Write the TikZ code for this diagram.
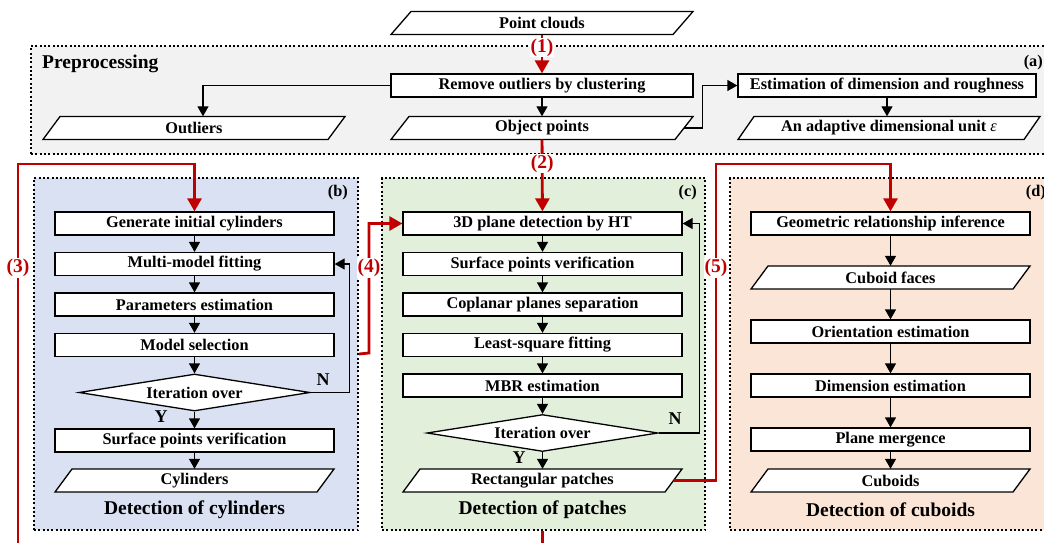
\documentclass[tikz,border=0pt]{standalone}
\usepackage{fontspec}
\setmainfont{Liberation Serif}
\usetikzlibrary{arrows.meta,shapes.geometric,calc}
\definecolor{myred}{RGB}{192,0,0}
\definecolor{graybg}{RGB}{242,242,242}
\definecolor{bluebg}{RGB}{218,225,242}
\definecolor{greenbg}{RGB}{226,239,218}
\definecolor{orangebg}{RGB}{251,229,214}
\newcommand{\paranode}[6]{%
  \draw[boxline] (#2-#4/2+#5,#3-11.5) -- (#2+#4/2,#3-11.5) -- (#2+#4/2-#5,#3+11.5) -- (#2-#4/2,#3+11.5) -- cycle;
  \node[ptxt, minimum width=#4-#5] (#1) at (#2,#3) {#6};}
\begin{document}
\begin{tikzpicture}[x=1pt,y=-1pt,
  boxline/.style={draw=black, line width=1.3pt, fill=white},
  box/.style={boxline, minimum height=23pt, minimum width=279pt, inner sep=0pt, font=\bfseries\fontsize{16.3}{18}\selectfont},
  ptxt/.style={minimum height=23pt, inner sep=0pt, font=\bfseries\fontsize{16.3}{18}\selectfont},
  dec/.style={diamond, boxline, minimum width=231pt, minimum height=37pt, inner sep=0pt, aspect=6.2, font=\bfseries\fontsize{16.3}{18}\selectfont},
  region/.style={draw=black, line width=2pt, dash pattern=on 2pt off 2.3pt, inner sep=0pt, anchor=north west},
  arr/.style={-{Triangle[length=10pt,width=11pt]}, line width=1.3pt},
  redarr/.style={-{Triangle[length=13pt,width=14pt]}, line width=2.8pt, draw=myred},
  redlbl/.style={text=myred, fill=white, inner sep=1pt, font=\bfseries\fontsize{19.5}{21}\selectfont},
  title/.style={font=\bfseries\fontsize{19.5}{22}\selectfont, inner sep=0pt},
  tag/.style={font=\bfseries\fontsize{16.3}{18}\selectfont, inner sep=0pt},
  yn/.style={font=\bfseries\fontsize{18}{20}\selectfont, inner sep=0pt}]
\useasboundingbox (0,0) rectangle (1044,542);
% regions
\node[region, fill=graybg, minimum width=1022pt, minimum height=108pt] (boxa) at (30,45) {};
\node[region, fill=bluebg, minimum width=324pt, minimum height=352pt] (boxb) at (33,177) {};
\node[region, fill=greenbg, minimum width=323pt, minimum height=352pt] (boxc) at (381,177) {};
\node[region, fill=orangebg, minimum width=323pt, minimum height=352pt] (boxd) at (729,177) {};
\node[title, anchor=west] (prep) at (42,64) {Preprocessing};
\node[tag, anchor=east] (ta) at (1043,63) {(a)};
\node[tag, anchor=east] (tb) at (348,193) {(b)};
\node[tag, anchor=east] (tc) at (697,193) {(c)};
\node[tag, anchor=east] (td) at (1046,193) {(d)};
% preprocessing
\paranode{pc}{542}{23}{302}{20}{Point clouds}
\node[box, minimum width=302pt] (rm) at (542,85.5) {Remove outliers by clustering};
\paranode{out}{194}{128}{302}{17}{Outliers}
\paranode{op}{542}{128}{302}{18}{Object points}
\node[box, minimum width=298pt] (est) at (887,85.5) {Estimation of dimension and roughness};
\paranode{eps}{889}{128}{302}{16}{An adaptive dimensional unit {\mdseries\itshape ε}}
% column b
\node[box] (b1) at (194.5,223.5) {Generate initial cylinders};
\node[box] (b2) at (194.5,264) {Multi-model fitting};
\node[box] (b3) at (194.5,304.5) {Parameters estimation};
\node[box] (b4) at (194.5,345) {Model selection};
\node[dec] (bd) at (194.5,392.5) {Iteration over};
\node[box] (b5) at (194.5,440.5) {Surface points verification};
\paranode{b6}{194.5}{480.5}{279}{17}{Cylinders}
\node[title] (tcyl) at (194.5,510) {Detection of cylinders};
% column c
\node[box] (c1) at (542.5,223.5) {3D plane detection by HT};
\node[box] (c2) at (542.5,264) {Surface points verification};
\node[box] (c3) at (542.5,304.5) {Coplanar planes separation};
\node[box] (c4) at (542.5,345) {Least-square fitting};
\node[box] (c5) at (542.5,385.5) {MBR estimation};
\node[dec] (cd) at (542.5,433) {Iteration over};
\paranode{c6}{542.5}{480.5}{279}{17}{Rectangular patches}
\node[title] (tpat) at (542.5,510) {Detection of patches};
% column d
\node[box] (d1) at (890.5,223.5) {Geometric relationship inference};
\paranode{d2}{890.5}{277.5}{279}{17}{Cuboid faces}
\node[box] (d3) at (890.5,331.5) {Orientation estimation};
\node[box] (d4) at (890.5,385.5) {Dimension estimation};
\node[box] (d5) at (890.5,439.5) {Plane mergence};
\paranode{d6}{890.5}{480.5}{279}{17}{Cuboids}
\node[title] (tcub) at (890.5,510) {Detection of cuboids};
% black connectors
\draw[arr] (rm.west) -| ($(out.north)+(9,0)$);
\draw[arr] (rm) -- (op);
\draw[arr] (op.east) -- ++(18,0) |- (est.west);
\draw[arr] (est) -- (est |- eps.north);
\foreach \a/\b in {b1/b2,b2/b3,b3/b4,b4/bd,bd/b5,b5/b6,c1/c2,c2/c3,c3/c4,c4/c5,c5/cd,cd/c6,d1/d2,d2/d3,d3/d4,d4/d5,d5/d6}
  \draw[arr] (\a) -- (\b);
\draw[arr] (bd.east) -- ++(38.5,0) |- (b2.east);
\draw[arr] (cd.east) -- ++(41,0) |- (c1.east);
\node[yn] (nb) at (323,380) {N};
\node[yn] (yb) at (161,417) {Y};
\node[yn] (nc) at (675,419) {N};
\node[yn] (yc) at (519,458) {Y};
% red connectors
\coordinate (r3a) at (542.5,575);
\coordinate (r3b) at (18,164);
\coordinate (r4) at (369,353);
\coordinate (r5) at (716,164);
\draw[redarr] (pc) -- node[redlbl, pos=0.33] (l1) {(1)} (rm);
\draw[redarr] (op) -- node[redlbl, pos=0.33] (l2) {(2)} (c1);
\draw[redarr] (boxc.south -| c1) -- (r3a) -| (r3b) -| (b1.north);
\draw[redarr] (boxb.east) -- (r4) |- (c1.west);
\draw[redarr] (c6.east) -| (r5) -| (d1.north);
\node[redlbl] (l3) at (18,268) {(3)};
\node[redlbl] (l4) at (369,268) {(4)};
\node[redlbl] (l5) at (716,268) {(5)};
\end{tikzpicture}
\end{document}
